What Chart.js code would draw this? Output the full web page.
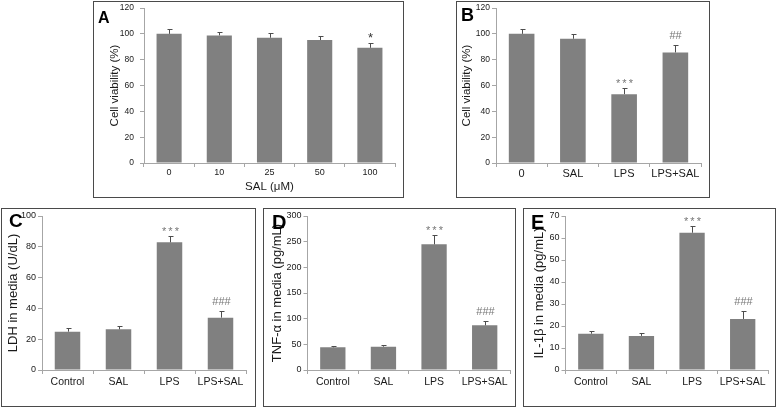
<!DOCTYPE html>
<html>
<head>
<meta charset="utf-8">
<script src="https://cdn.jsdelivr.net/npm/chart.js@4.4.1/dist/chart.umd.min.js"></script>
<style>
  body { margin: 0; background: #fff; width: 778px; height: 408px; position: relative; overflow: hidden; }
  .panel { position: absolute; }
  .panel canvas { position: absolute; left: 0; top: 0; }
  .frame { position: absolute; left: 0; top: 0; right: 0; bottom: 0; border: 1px solid #4a4a4a; box-sizing: border-box; pointer-events: none; }
</style>
</head>
<body>
<script>
// Panel A - viability vs SAL dose
const doseLabels = ['0', '10', '25', '50', '100'];
const doseViability = [100, 98.8, 97, 95.2, 89.2];
const doseViabilityErr = [3.7, 2.8, 4.0, 3.1, 3.4];
const doseMarks = ['', '', '', '', '*'];

// Panel B - viability with LPS
const lpsLabels = ['0', 'SAL', 'LPS', 'LPS+SAL'];
const lpsViability = [100, 96.2, 53.3, 85.6];
const lpsViabilityErr = [3.7, 3.6, 5.1, 5.4];
const lpsMarks = ['', '', '***', '##'];

// Panels C-E - media levels
const groupLabels = ['Control', 'SAL', 'LPS', 'LPS+SAL'];
const ldhValues = [24.9, 26.4, 82.9, 34.0];
const ldhErr = [2.1, 2.4, 4.1, 4.3];
const tnfValues = [44.2, 45.5, 244.8, 87.0];
const tnfErr = [2.8, 3.5, 18.2, 8.0];
const il1bValues = [16.5, 15.5, 62.4, 23.2];
const il1bErr = [1.1, 1.3, 3.2, 3.6];
const groupMarks = ['', '', '***', '###'];

Chart.defaults.font.family = '"Liberation Sans", Arial, sans-serif';
Chart.defaults.color = '#222';

const AXIS_COLOR = '#a6a6a6';

// error bars, significance marks and the panel letter
const errorBarPlugin = {
  id: 'errorBars',
  afterDatasetsDraw(chart, args, opts) {
    const ctx = chart.ctx;
    const yScale = chart.scales.y;
    const values = chart.data.datasets[0].data;
    const meta = chart.getDatasetMeta(0);
    ctx.save();
    meta.data.forEach((bar, i) => {
      const x = Math.round(bar.x) + 0.5;
      const top = Math.round(yScale.getPixelForValue(values[i] + opts.errors[i])) + 0.5;
      ctx.strokeStyle = '#4d4d4d';
      ctx.lineWidth = 1;
      ctx.beginPath();
      ctx.moveTo(x, bar.y);
      ctx.lineTo(x, top);
      ctx.moveTo(x - 2, top);
      ctx.lineTo(x + 3, top);
      ctx.stroke();

      const mark = opts.marks[i];
      if (mark) {
        const star = mark[0] === '*';
        ctx.font = (star ? opts.starSize : 11) + 'px "Liberation Sans", Arial, sans-serif';
        ctx.fillStyle = opts.markColor;
        ctx.textAlign = 'center';
        ctx.textBaseline = 'alphabetic';
        ctx.letterSpacing = star && mark.length > 1 ? '2px' : '0px';
        ctx.fillText(mark, x + (star && mark.length > 1 ? 1 : 0), top - (star ? 2 : 7));
      }
    });
    ctx.letterSpacing = '0px';
    ctx.font = 'bold ' + opts.letter[3] + 'px "Liberation Sans", Arial, sans-serif';
    ctx.fillStyle = '#000';
    ctx.textAlign = 'left';
    ctx.textBaseline = 'alphabetic';
    ctx.fillText(opts.letter[0], opts.letter[1], opts.letter[2]);
    ctx.restore();
  }
};

function makePanel(p) {
  const [bx, by, bw, bh] = p.box;
  const [aLeft, aTop, aRight, aBottom] = p.area;

  const wrap = document.createElement('div');
  wrap.className = 'panel';
  wrap.style.left = bx + 'px';
  wrap.style.top = by + 'px';
  wrap.style.width = bw + 'px';
  wrap.style.height = bh + 'px';
  const canvas = document.createElement('canvas');
  canvas.width = bw;
  canvas.height = bh;
  const frame = document.createElement('div');
  frame.className = 'frame';
  wrap.appendChild(canvas);
  wrap.appendChild(frame);
  document.body.appendChild(wrap);

  const yLine = p.yTitleSize * 1.2;
  const xLine = 11.5 * 1.2;

  return new Chart(canvas, {
    type: 'bar',
    data: {
      labels: p.labels,
      datasets: [{
        data: p.values,
        backgroundColor: '#808080',
        borderWidth: 0,
        categoryPercentage: 1,
        barPercentage: 0.5
      }]
    },
    plugins: [errorBarPlugin],
    options: {
      responsive: false,
      animation: false,
      layout: { padding: { left: 0, top: aTop, right: bw - aRight, bottom: 0 } },
      plugins: {
        legend: { display: false },
        tooltip: { enabled: false },
        errorBars: {
          errors: p.errors,
          marks: p.marks,
          markColor: p.markColor,
          starSize: p.starSize,
          letter: p.letter
        }
      },
      scales: {
        x: {
          grid: { drawOnChartArea: false, drawTicks: true, tickLength: 4, color: AXIS_COLOR, offset: true },
          border: { display: true, color: AXIS_COLOR },
          ticks: { font: { size: p.xTickSize }, padding: p.xTickPad, color: '#1a1a1a', maxRotation: 0, autoSkip: false },
          title: {
            display: !!p.xTitle,
            text: p.xTitle || '',
            font: { size: 11.5 },
            color: '#1a1a1a',
            padding: { top: 0, bottom: p.xTitle ? bh - xLine / 2 - p.xTitleY : 0 }
          },
          afterFit: s => { s.height = bh - aBottom; s.paddingLeft = 0; s.paddingRight = 0; }
        },
        y: {
          min: 0,
          max: p.yMax,
          grid: { drawOnChartArea: false, drawTicks: true, tickLength: 4, color: AXIS_COLOR },
          border: { display: true, color: AXIS_COLOR },
          ticks: { stepSize: p.yStep, font: { size: p.yTickSize }, padding: p.yTickPad, color: '#1a1a1a' },
          title: {
            display: true,
            text: p.yTitle,
            font: { size: p.yTitleSize },
            color: '#1a1a1a',
            padding: { top: p.yTitleX - yLine / 2, bottom: 0 }
          },
          afterFit: s => { s.width = aLeft; s.paddingTop = 0; s.paddingBottom = 0; }
        }
      }
    }
  });
}

makePanel({
  box: [93, 1, 311, 197], area: [51, 7, 302, 162],
  labels: doseLabels, values: doseViability, errors: doseViabilityErr, marks: doseMarks,
  markColor: '#333', starSize: 13,
  yMax: 120, yStep: 20, yTickSize: 8.5, yTickPad: 6,
  yTitle: 'Cell viability (%)', yTitleSize: 11.5, yTitleX: 22,
  xTickSize: 9, xTickPad: 0, xTitle: 'SAL (μM)', xTitleY: 186,
  letter: ['A', 5, 22, 16]
});

makePanel({
  box: [456, 1, 254, 197], area: [40, 7, 245, 162],
  labels: lpsLabels, values: lpsViability, errors: lpsViabilityErr, marks: lpsMarks,
  markColor: '#777', starSize: 11,
  yMax: 120, yStep: 20, yTickSize: 8.5, yTickPad: 2,
  yTitle: 'Cell viability (%)', yTitleSize: 11.5, yTitleX: 11,
  xTickSize: 11, xTickPad: 0,
  letter: ['B', 5, 20, 18]
});

makePanel({
  box: [1, 208, 255, 199], area: [41, 8, 245, 162],
  labels: groupLabels, values: ldhValues, errors: ldhErr, marks: groupMarks,
  markColor: '#777', starSize: 11,
  yMax: 100, yStep: 20, yTickSize: 9, yTickPad: 2,
  yTitle: 'LDH in media (U/dL)', yTitleSize: 13, yTitleX: 12,
  xTickSize: 10.5, xTickPad: 2,
  letter: ['C', 8, 19, 19]
});

makePanel({
  box: [263, 208, 253, 199], area: [44.5, 8, 247, 162],
  labels: groupLabels, values: tnfValues, errors: tnfErr, marks: groupMarks,
  markColor: '#777', starSize: 11,
  yMax: 300, yStep: 50, yTickSize: 9, yTickPad: 2,
  yTitle: 'TNF-α in media (pg/mL)', yTitleSize: 13, yTitleX: 14,
  xTickSize: 10.5, xTickPad: 2,
  letter: ['D', 9, 21, 20]
});

makePanel({
  box: [523, 208, 253, 199], area: [42.5, 8, 245, 162],
  labels: groupLabels, values: il1bValues, errors: il1bErr, marks: groupMarks,
  markColor: '#777', starSize: 11,
  yMax: 70, yStep: 10, yTickSize: 9, yTickPad: 2,
  yTitle: 'IL-1β in media (pg/mL)', yTitleSize: 13, yTitleX: 16,
  xTickSize: 10.5, xTickPad: 2,
  letter: ['E', 8, 21, 20]
});
</script>
</body>
</html>
